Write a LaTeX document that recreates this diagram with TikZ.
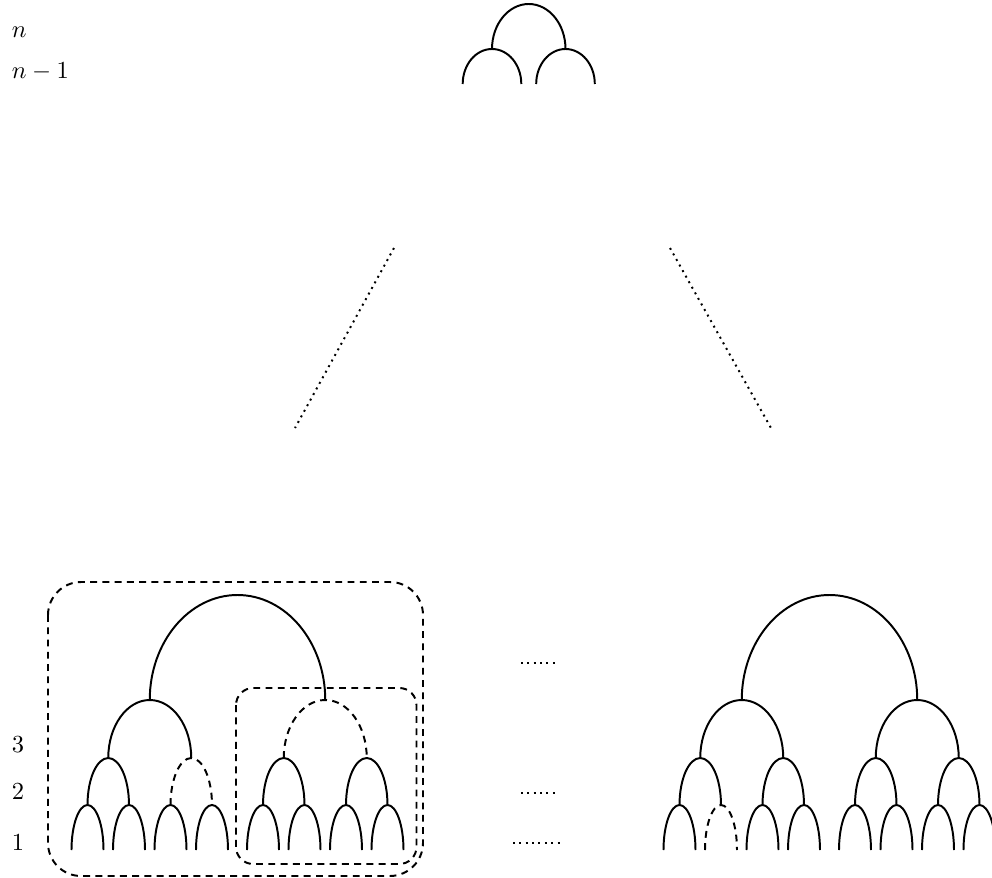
\documentclass[tikz,border=0pt]{standalone}
\usepackage{amsmath}

% arch: [style] peak x, base y, x radius, y radius
\newcommand{\arch}[5][solid]{%
  \draw[#1] (#2-#4,#3) arc[start angle=180, end angle=360, x radius=#4, y radius=#5];}

\begin{document}
\begin{tikzpicture}[x=0.408pt, y=-0.408pt, line width=0.8pt,
    hidden/.style={dash pattern=on 2.8pt off 2.2pt},
    dots/.style={dash pattern=on 0.8pt off 1.8pt},
    level/.style={inner sep=0pt, anchor=base west}]
  \useasboundingbox (0,0) rectangle (992,878);

  % level labels
  \node[level] (ln)  at (11,38)  {$n$};
  \node[level] (ln1) at (11,79)  {$n-1$};
  \node[level] (l3)  at (11,752) {3};
  \node[level] (l2)  at (11,799) {2};
  \node[level] (l1)  at (11,850) {1};

  % top of the tree
  \arch{492}{84}{29.3}{35}
  \arch{565.5}{84}{29.3}{35}
  \arch{528.75}{49}{36.75}{45}

  % omitted levels
  \coordinate (a1) at (394,248);
  \coordinate (a2) at (295,428);
  \coordinate (b1) at (670,248);
  \coordinate (b2) at (771,428);
  \draw[dots] (a1) -- (a2);
  \draw[dots] (b1) -- (b2);

  % left subtree
  \foreach \dx in {0,41.5,83,124.5,175.5,217,258.5,300}
    \arch{87.5+\dx}{850}{16}{45};
  \foreach \dx/\st in {20.75/solid,103.75/hidden,196.25/solid,279.25/solid}
    \arch[\st]{87.5+\dx}{805}{20.75}{47};
  \arch{87.5+62.25}{758}{41.5}{58}
  \arch[hidden]{87.5+237.75}{758}{41.5}{58}
  \arch{87.5+150}{700}{87.75}{105}

  % groups
  \draw[hidden, rounded corners=13.5pt] (48,582) rectangle (423,876);
  \draw[hidden, rounded corners=7pt] (236,688) rectangle (416.5,864);

  % right subtree
  \foreach \dx/\st in {0/solid,41.5/hidden,83/solid,124.5/solid,175.5/solid,217/solid,258.5/solid,300/solid}
    \arch[\st]{679.5+\dx}{850}{16}{45};
  \foreach \dx in {20.75,103.75,196.25,279.25}
    \arch{679.5+\dx}{805}{20.75}{47};
  \arch{679.5+62.25}{758}{41.5}{58}
  \arch{679.5+237.75}{758}{41.5}{58}
  \arch{679.5+150}{700}{87.75}{105}

  % dots between the subtrees
  \coordinate (c1) at (521,663);
  \coordinate (c2) at (557,663);
  \coordinate (d1) at (521,793);
  \coordinate (d2) at (557,793);
  \coordinate (e1) at (513,843);
  \coordinate (e2) at (562,843);
  \draw[dots] (c1) -- (c2);
  \draw[dots] (d1) -- (d2);
  \draw[dots] (e1) -- (e2);
\end{tikzpicture}
\end{document}
